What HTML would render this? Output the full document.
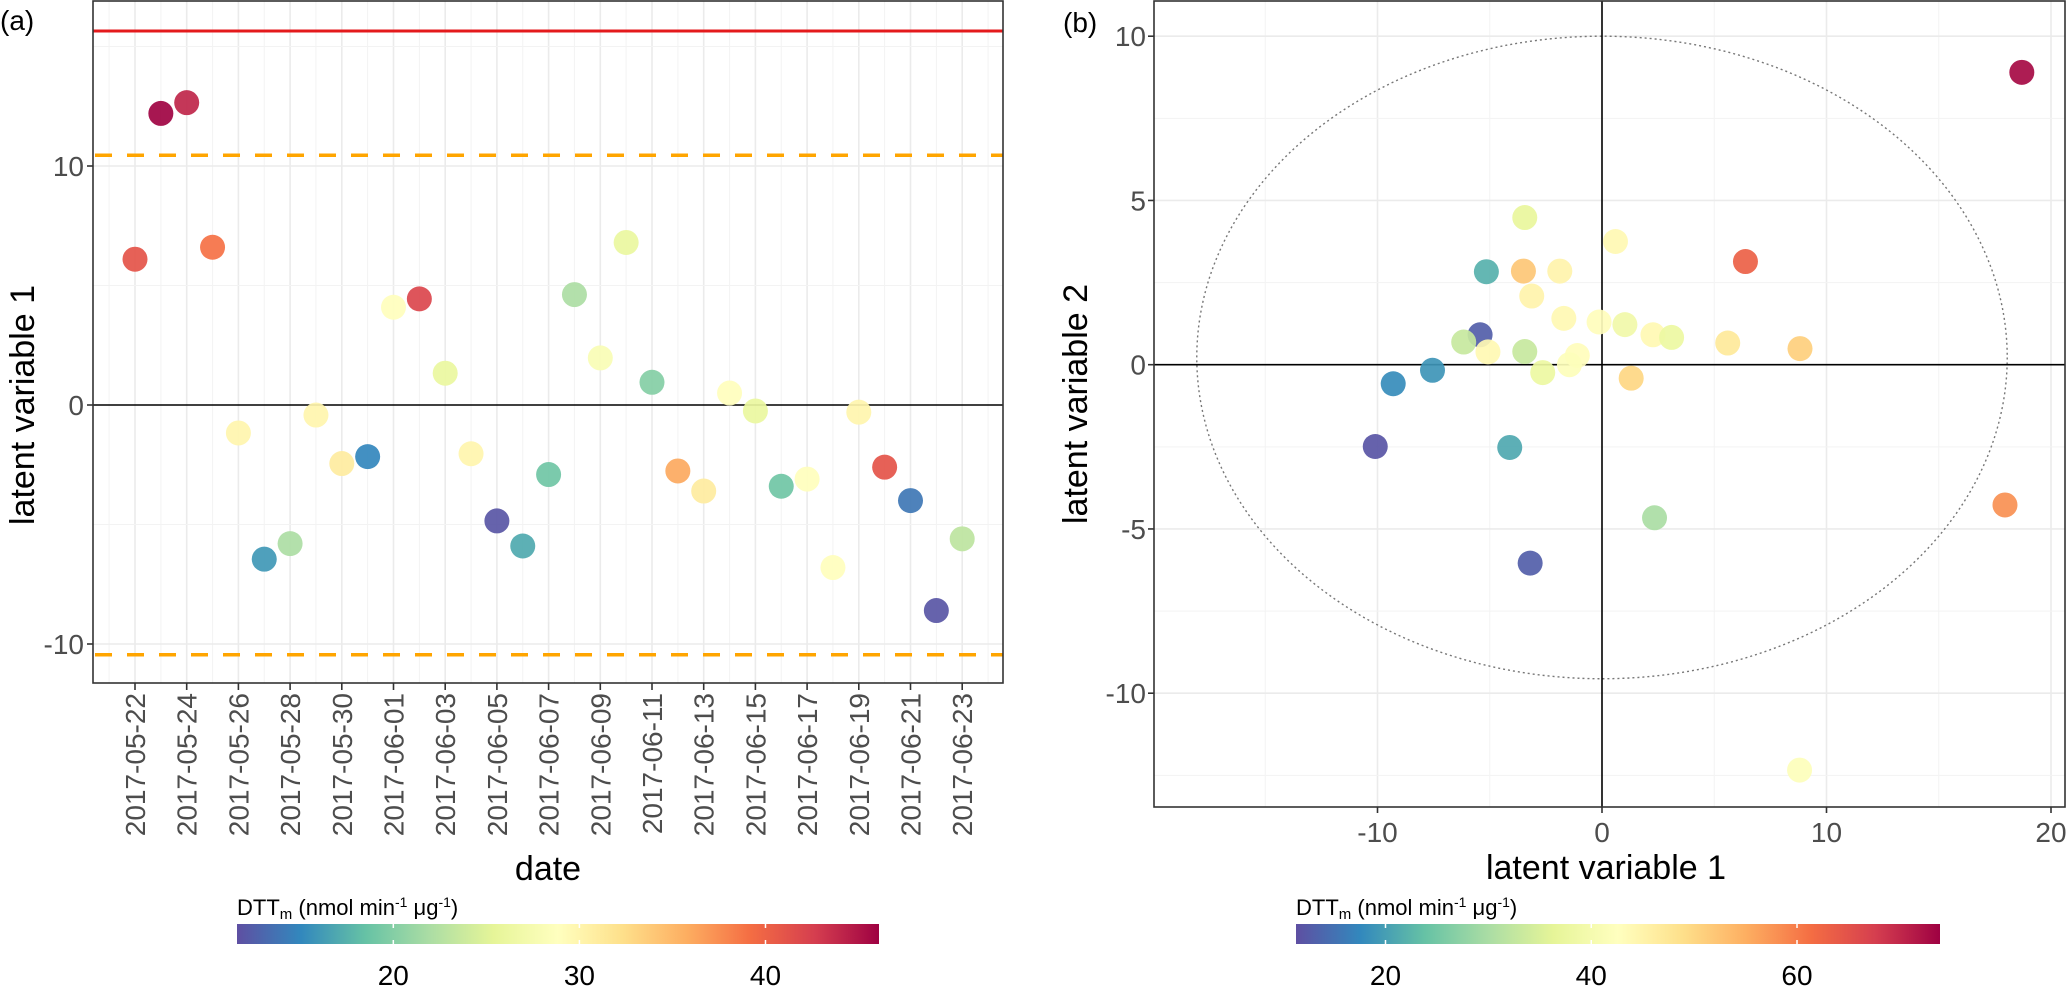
<!DOCTYPE html>
<html><head><meta charset="utf-8"><style>
html,body{margin:0;padding:0;background:#fff;}
svg{display:block;font-family:"Liberation Sans",Arial,sans-serif;}
</style></head><body>
<svg id="fig" width="2067" height="987" viewBox="0 0 2067 987" xmlns="http://www.w3.org/2000/svg">
<g id="pa"></g>
<g id="pb"></g>
<text x="0" y="30" font-size="28" fill="#000">(a)</text>
<text x="1063" y="32" font-size="28" fill="#000">(b)</text>
<text transform="translate(34,405) rotate(-90)" text-anchor="middle" font-size="34" fill="#000">latent variable 1</text>
<text x="548" y="880" text-anchor="middle" font-size="34" fill="#000">date</text>
<text transform="translate(1087,404) rotate(-90)" text-anchor="middle" font-size="34" fill="#000">latent variable 2</text>
<text x="1606" y="879" text-anchor="middle" font-size="34" fill="#000">latent variable 1</text>
</svg>
<script>
const NS="http://www.w3.org/2000/svg";
// ---- Panel (a) data ----
const dates=["2017-05-22","2017-05-23","2017-05-24","2017-05-25","2017-05-26","2017-05-27","2017-05-28","2017-05-29","2017-05-30","2017-05-31","2017-06-01","2017-06-02","2017-06-03","2017-06-04","2017-06-05","2017-06-06","2017-06-07","2017-06-08","2017-06-09","2017-06-10","2017-06-11","2017-06-12","2017-06-13","2017-06-14","2017-06-15","2017-06-16","2017-06-17","2017-06-18","2017-06-19","2017-06-20","2017-06-21","2017-06-22","2017-06-23"];
const lv1Values=[6.1,12.2,12.65,6.6,-1.17,-6.45,-5.8,-0.42,-2.45,-2.16,4.09,4.44,1.33,-2.04,-4.85,-5.9,-2.91,4.62,1.97,6.8,0.95,-2.76,-3.6,0.5,-0.25,-3.4,-3.1,-6.8,-0.3,-2.6,-4.0,-8.6,-5.6];
const dttA=[41,46,44,39,30,16,22,30,31,15,29,42,26,30,12,17,19,22,28,26,20,36,31,29,26,19,29,29,30,41,14,12,23];
const aYTicks=[-10,0,10];
const aXTickLabels=["2017-05-22","2017-05-24","2017-05-26","2017-05-28","2017-05-30","2017-06-01","2017-06-03","2017-06-05","2017-06-07","2017-06-09","2017-06-11","2017-06-13","2017-06-15","2017-06-17","2017-06-19","2017-06-21","2017-06-23"];
const upperLimit=15.65, ciLimit=10.45;
const legendATicks=[20,30,40];
// ---- Panel (b) data ----
const lv1B=[18.7,-3.44,0.6,6.39,-5.15,-3.5,-1.88,-3.13,-1.7,-0.13,1.02,2.27,3.1,5.6,8.82,-5.43,-6.16,-5.08,-3.44,-1.1,-1.45,-2.64,1.3,-7.55,-9.3,-10.1,-4.11,2.34,17.95,-3.2,8.8];
const lv2B=[8.9,4.48,3.75,3.14,2.83,2.85,2.85,2.09,1.41,1.30,1.22,0.91,0.83,0.66,0.49,0.91,0.69,0.39,0.4,0.28,0.0,-0.24,-0.41,-0.17,-0.58,-2.49,-2.52,-4.66,-4.27,-6.04,-12.34];
const dttB=[73,37,44,63,22,52,45,45,44,43,39,44,38,47,51,13,33,44,33,43,42,38,50,19,18,12,21,30,58,13,42];
const bXTicks=[-10,0,10,20];
const bYTicks=[-10,-5,0,5,10];
const legendBTicks=[20,40,60];

const spectral=["#5E4FA2","#3288BD","#66C2A5","#ABDDA4","#E6F598","#FFFFBF","#FEE08B","#FDAE61","#F46D43","#D53E4F","#9E0142"];
function hex(c){return [1,3,5].map(i=>parseInt(c.substr(i,2),16));}
function pal(t){t=Math.max(0,Math.min(1,t));const p=t*10,i=Math.min(9,Math.floor(p)),f=p-i;const a=hex(spectral[i]),b=hex(spectral[i+1]);return "rgb("+a.map((v,k)=>Math.round(v+(b[k]-v)*f)).join(",")+")";}
function el(parent,tag,attrs){const e=document.createElementNS(NS,tag);for(const k in attrs)e.setAttribute(k,attrs[k]);parent.appendChild(e);return e;}

// ===== Panel A =====
const A=document.getElementById("pa");
const aL=93,aR=1003,aT=1,aB=683;
const day0=Date.parse("2017-05-22");
const dayIdx=d=>(Date.parse(d)-day0)/86400000;
const ax=i=>135+i*25.85;
const ay=v=>405-v*23.9;
// grid
for(let i=-1;i<=33;i++){const x=ax(i);if(x<aL||x>aR)continue;const g=el(A,"line",{x1:x,x2:x,y1:aT,y2:aB,stroke:i%2===0?"#ebebeb":"#f3f3f3","stroke-width":i%2===0?1.6:1});

}
[-10,-5,5,10,15].forEach(v=>{const g=el(A,"line",{x1:aL,x2:aR,y1:ay(v),y2:ay(v),stroke:v%10===0?"#ebebeb":"#f3f3f3","stroke-width":v%10===0?1.6:1});

});
// zero line
{const z=el(A,"line",{x1:aL,x2:aR,y1:ay(0),y2:ay(0),stroke:"#000","stroke-width":1.6});

}
// limit lines
{const r=el(A,"line",{x1:aL,x2:aR,y1:ay(upperLimit),y2:ay(upperLimit),stroke:"#E41A1C","stroke-width":3});

}
[ciLimit,-ciLimit].forEach(v=>{const o=el(A,"line",{x1:aL+2,x2:aR,y1:ay(v),y2:ay(v),stroke:"#FFA500","stroke-width":3.5,"stroke-dasharray":"17 15"});

});
// points
dates.forEach((d,i)=>{const c=el(A,"circle",{cx:ax(dayIdx(d)),cy:ay(lv1Values[i]),r:12.5,fill:pal((dttA[i]-11.6)/(46.1-11.6)),"fill-opacity":0.92});

});
// border
{const b=el(A,"rect",{x:aL,y:aT,width:aR-aL,height:aB-aT,fill:"none",stroke:"#333","stroke-width":1.6});

}
// y ticks
aYTicks.forEach(v=>{el(A,"line",{x1:aL-6,x2:aL,y1:ay(v),y2:ay(v),stroke:"#333","stroke-width":1.6});
const t=el(A,"text",{x:aL-9,y:ay(v)+10,"text-anchor":"end","font-size":28,fill:"#4d4d4d"});t.textContent=v;

});
// x ticks
aXTickLabels.forEach(d=>{const x=ax(dayIdx(d));el(A,"line",{x1:x,x2:x,y1:aB,y2:aB+7,stroke:"#333","stroke-width":1.6});
const t=el(A,"text",{transform:`translate(${x+10},${aB+10}) rotate(-90)`,"text-anchor":"end","font-size":28,fill:"#4d4d4d"});t.textContent=d;

});

// legend builder
function legend(parent,x0,x1,vmin,vmax,ticks,name){
  const defs=el(parent,"defs",{});const gid="grad"+name;const lg=el(defs,"linearGradient",{id:gid,x1:0,x2:1,y1:0,y2:0});
  for(let i=0;i<=20;i++){el(lg,"stop",{offset:(i/20),"stop-color":pal(i/20)});}
  const t=el(parent,"text",{x:x0,y:915,"font-size":22,fill:"#000"});
  t.innerHTML='DTT<tspan font-size="15" dy="4">m</tspan><tspan dy="-4"> (nmol min</tspan><tspan font-size="14" dy="-8">-1</tspan><tspan dy="8"> μg</tspan><tspan font-size="14" dy="-8">-1</tspan><tspan dy="8">)</tspan>';
  
  
  const r=el(parent,"rect",{x:x0,y:924,width:x1-x0,height:20,fill:`url(#${gid})`});
  
  
  ticks.forEach(v=>{const x=x0+(v-vmin)/(vmax-vmin)*(x1-x0);
    el(parent,"line",{x1:x,x2:x,y1:924,y2:928,stroke:"#fff","stroke-width":1.5});
    el(parent,"line",{x1:x,x2:x,y1:940,y2:944,stroke:"#fff","stroke-width":1.5});
    const l=el(parent,"text",{x:x,y:985,"text-anchor":"middle","font-size":28,fill:"#000"});l.textContent=v;
    
    });
}
legend(A,237,879,11.6,46.1,legendATicks,"a");

// ===== Panel B =====
const B=document.getElementById("pb");
const bL=1154,bR=2065,bT=1,bB=807;
const bx=v=>1602+v*22.45;
const by=v=>364.7-v*32.85;
[-15,-10,-5,5,10,15,20].forEach(v=>{const g=el(B,"line",{x1:bx(v),x2:bx(v),y1:bT,y2:bB,stroke:v%10===0?"#ebebeb":"#f3f3f3","stroke-width":v%10===0?1.6:1});

});
[-12.5,-10,-7.5,-5,-2.5,2.5,5,7.5,10].forEach(v=>{const g=el(B,"line",{x1:bL,x2:bR,y1:by(v),y2:by(v),stroke:Number.isInteger(v)?"#ebebeb":"#f3f3f3","stroke-width":Number.isInteger(v)?1.6:1});

});
{const e=el(B,"ellipse",{cx:bx(0),cy:by(0.22),rx:18.05*22.45,ry:9.78*32.85,fill:"none",stroke:"#777","stroke-width":1.4,"stroke-dasharray":"2 3"});

}
{const z=el(B,"line",{x1:bL,x2:bR,y1:by(0),y2:by(0),stroke:"#000","stroke-width":1.6});


const z2=el(B,"line",{x1:bx(0),x2:bx(0),y1:bT,y2:bB,stroke:"#000","stroke-width":1.6});

}
lv1B.forEach((v,i)=>{const c=el(B,"circle",{cx:bx(v),cy:by(lv2B[i]),r:12.5,fill:pal((dttB[i]-11.3)/(73.9-11.3)),"fill-opacity":0.92});

});
{const b=el(B,"rect",{x:bL,y:bT,width:bR-bL,height:bB-bT,fill:"none",stroke:"#333","stroke-width":1.6});

}
bYTicks.forEach(v=>{el(B,"line",{x1:bL-6,x2:bL,y1:by(v),y2:by(v),stroke:"#333","stroke-width":1.6});
const t=el(B,"text",{x:bL-8,y:by(v)+10,"text-anchor":"end","font-size":28,fill:"#4d4d4d"});t.textContent=v;

});
bXTicks.forEach(v=>{el(B,"line",{x1:bx(v),x2:bx(v),y1:bB,y2:bB+6,stroke:"#333","stroke-width":1.6});
const t=el(B,"text",{x:bx(v),y:bB+35,"text-anchor":"middle","font-size":28,fill:"#4d4d4d"});t.textContent=v;

});
legend(B,1296,1940,11.3,73.9,legendBTicks,"b");
</script>
</body></html>
